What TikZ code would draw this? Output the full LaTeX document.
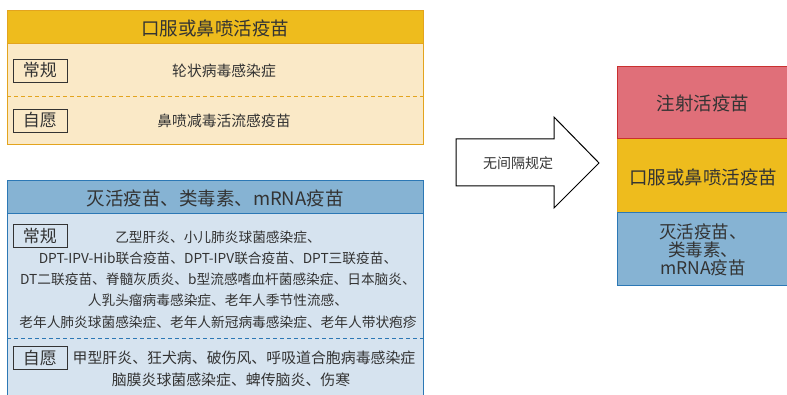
\documentclass[tikz,border=0pt]{standalone}
\usepackage{fontspec}
\setmainfont{Noto Sans CJK SC}
\definecolor{ylw}{HTML}{EEBC1D}
\definecolor{ylwbd}{HTML}{E3A41E}
\definecolor{cream}{HTML}{FAE9C7}
\definecolor{blu}{HTML}{86B3D3}
\definecolor{blubd}{HTML}{2C78B5}
\definecolor{lblu}{HTML}{D6E3EF}
\definecolor{rd}{HTML}{E06F79}
\definecolor{rdbd}{HTML}{C9302F}
\definecolor{txt}{HTML}{333333}
\begin{document}
\begin{tikzpicture}[x=1pt,y=-1pt,
  txtstyle/.style={text=txt,inner sep=0pt},
  labelbox/.style={draw=txt,line width=0.9pt,minimum width=54pt,minimum height=23pt,inner sep=0pt,text=txt,font=\fontsize{17}{20}\selectfont},
  hdr/.style={txtstyle,font=\fontsize{18.5}{22}\selectfont},
  bodya/.style={txtstyle,font=\fontsize{14.8}{18}\selectfont},
  bodyb/.style={txtstyle,font=\fontsize{13.7}{21.2}\selectfont,align=center},
  bodyc/.style={txtstyle,font=\fontsize{14.9}{18}\selectfont},
  rtxt/.style={txtstyle,font=\fontsize{18.5}{22}\selectfont,align=center}
]
\useasboundingbox (0,0) rectangle (787,395);
\begin{scope}
\clip (0,0) rectangle (787,395);
% top-left box
\draw[ylwbd,line width=1pt,fill=cream] (7,11) rectangle (423,145);
\fill[ylw] (7.5,11.5) rectangle (422.5,44);
\draw[ylwbd,line width=1pt] (7,44) -- (423,44);
\draw[ylwbd,line width=0.8pt,dashed,dash pattern=on 4pt off 3pt] (7,96) -- (423,96);
\node[hdr] (h1) at (215,28) {口服或鼻喷活疫苗};
\node[labelbox] (r1) at (40,70.5) {常规};
\node[bodya] (t1) at (224,70.5) {轮状病毒感染症};
\node[labelbox] (v1) at (40,120.5) {自愿};
\node[bodya] (t2) at (224,120.5) {鼻喷减毒活流感疫苗};
% bottom-left box
\draw[blubd,line width=1pt,fill=lblu] (7,181) rectangle (423,410);
\fill[blu] (7.5,181.5) rectangle (422.5,214);
\draw[blubd,line width=1pt] (7,214) -- (423,214);
\draw[blubd,line width=0.8pt,dashed,dash pattern=on 4pt off 3pt] (7,338) -- (423,338);
\node[hdr] (h2) at (215,198) {灭活疫苗、类毒素、mRNA疫苗};
\node[labelbox] (r2) at (40,236) {常规};
\node[bodyb] (t3) at (218,279.5) {乙型肝炎、小儿肺炎球菌感染症、\\DPT-IPV-Hib联合疫苗、DPT-IPV联合疫苗、DPT三联疫苗、\\DT二联疫苗、脊髓灰质炎、b型流感嗜血杆菌感染症、日本脑炎、\\人乳头瘤病毒感染症、老年人季节性流感、\\老年人肺炎球菌感染症、老年人新冠病毒感染症、老年人带状疱疹};
\node[labelbox] (v2) at (40,358) {自愿};
\node[bodyc] (t4) at (244,358) {甲型肝炎、狂犬病、破伤风、呼吸道合胞病毒感染症};
\node[bodyc] (t5) at (231,380) {脑膜炎球菌感染症、蜱传脑炎、伤寒};
% arrow
\draw[black,line width=1pt,fill=white] (456,139) -- (554,139) -- (554,117) -- (599,163) -- (554,208) -- (554,186) -- (456,186) -- cycle;
\node[txtstyle,font=\fontsize{14}{17}\selectfont] (ar) at (518,163) {无间隔规定};
% right stack
\draw[rdbd,line width=1pt,fill=rd] (617,67) rectangle (792,139);
\draw[ylwbd,line width=1pt,fill=ylw] (617,139) rectangle (792,213);
\draw[blubd,line width=1pt,fill=blu] (617,213) rectangle (792,286);
\draw[rdbd,line width=1pt] (617,139) -- (792,139);
\node[rtxt] (s1) at (703,103) {注射活疫苗};
\node[rtxt] (s2) at (703,177) {口服或鼻喷活疫苗};
\node[rtxt,font=\fontsize{17.5}{18}\selectfont] (s3) at (703,250) {灭活疫苗、\\类毒素、\\mRNA疫苗};
\end{scope}
\end{tikzpicture}
\end{document}
